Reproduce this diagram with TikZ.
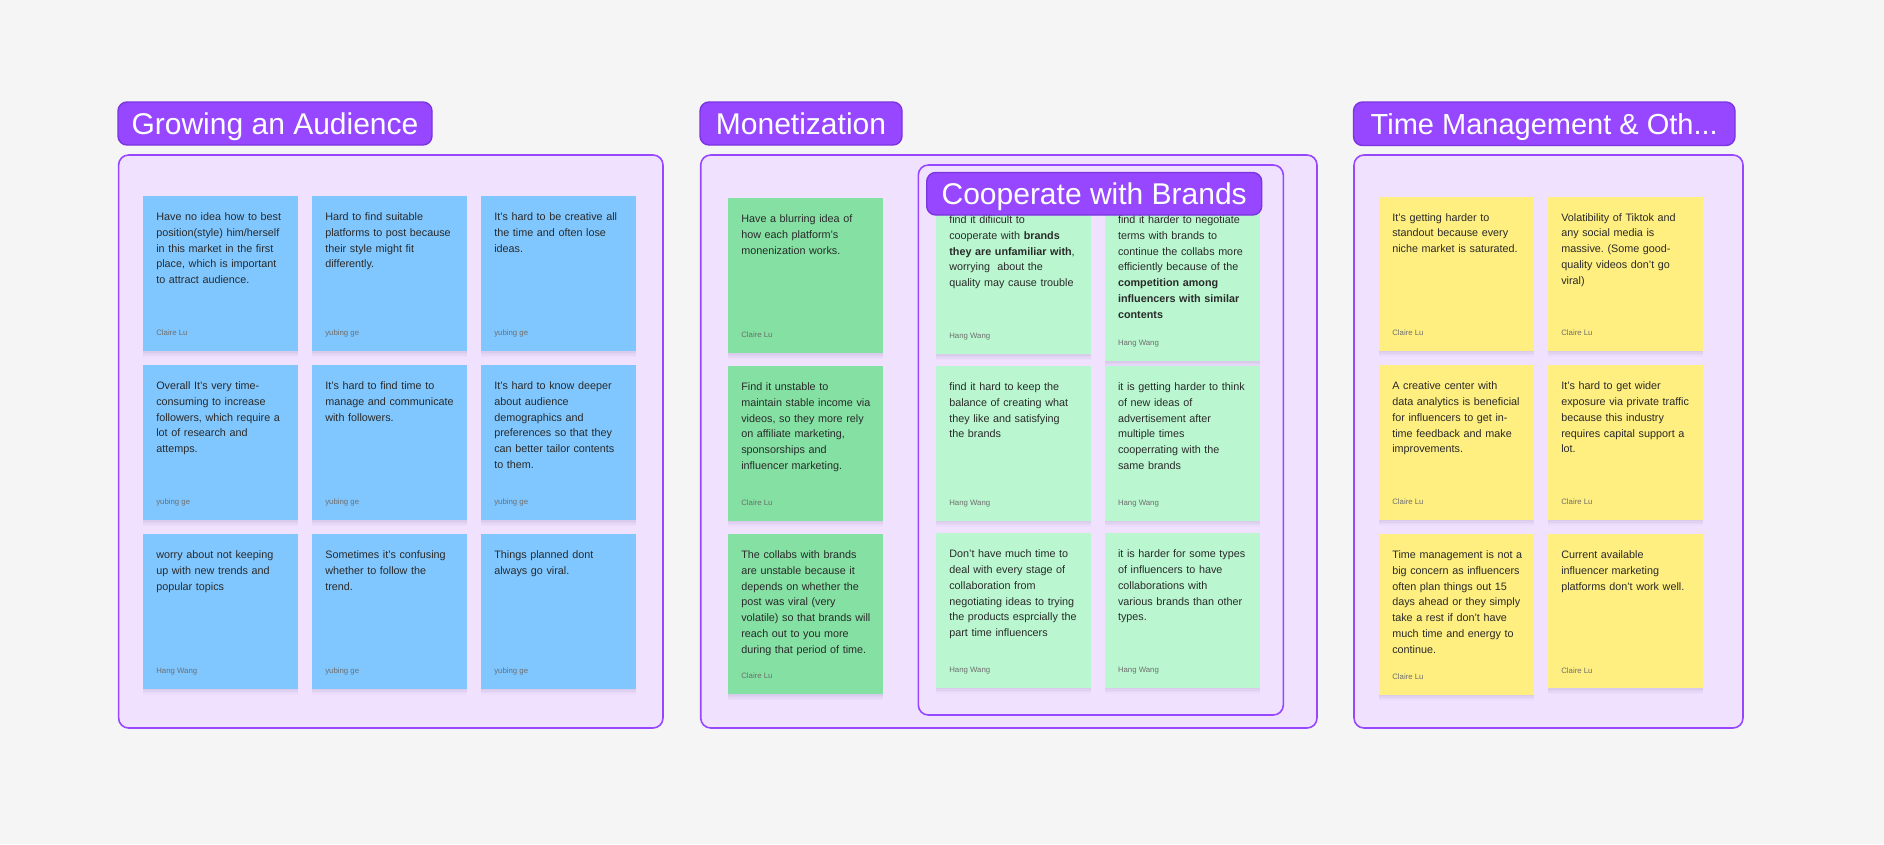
\documentclass[tikz,border=0pt]{standalone}
\usepackage{fontspec}
\setmainfont{Liberation Sans}
\frenchspacing
\definecolor{bgc}{HTML}{F5F5F5}
\definecolor{purp}{HTML}{9747FF}
\definecolor{purpd}{HTML}{7B35E0}
\definecolor{lav}{HTML}{F0E2FF}
\definecolor{sblue}{HTML}{80C7FF}
\definecolor{sgreen}{HTML}{85E0A3}
\definecolor{slgreen}{HTML}{BAF7D0}
\definecolor{syellow}{HTML}{FFEF80}
\definecolor{txtc}{HTML}{2A2A2A}
\definecolor{authc}{HTML}{6E6E6E}
\definecolor{shadc}{HTML}{6A5A90}
\tikzset{
  note/.style={inner sep=0pt, outer sep=0pt, anchor=north west,
    preaction={fill=shadc, fill opacity=0.05, transform canvas={yshift=-1.5pt}},
    preaction={fill=shadc, fill opacity=0.05, transform canvas={yshift=-3pt}},
    preaction={fill=shadc, fill opacity=0.04, transform canvas={yshift=-4.5pt}},
    preaction={fill=shadc, fill opacity=0.03, transform canvas={yshift=-6pt}}},
  nblue/.style={note, fill=sblue},
  ngreen/.style={note, fill=sgreen},
  nlgreen/.style={note, fill=slgreen},
  nyellow/.style={note, fill=syellow},
  txt/.style={inner sep=0pt, outer sep=0pt, anchor=north west, text width=150pt, align=left,
    text=txtc, font=\fontsize{10.8}{15.8}\selectfont},
  auth/.style={inner sep=0pt, outer sep=0pt, anchor=base west, text=authc, font=\fontsize{7.8}{10}\selectfont},
  frame/.style={draw=purp, line width=1.6pt, fill=lav, rounded corners=10pt, inner sep=0pt, outer sep=0pt, anchor=north west},
  pill/.style={draw=purpd, line width=1.4pt, fill=purp, rounded corners=9pt, inner sep=0pt, outer sep=0pt, anchor=north west},
  pilltxt/.style={text=white, font=\fontsize{30}{36}\selectfont, inner sep=0pt, anchor=base}
}
% name, style, x, y, w, h, text, author
\newcommand{\mysticky}[8]{%
  \node[#2, minimum width=#5pt, minimum height=#6pt] (#1) at (#3,#4) {};
  \node[txt] (#1t) at ([xshift=13.3pt,yshift=-13.4pt]#1.north west) {\strut #7};
  \node[auth] (#1a) at ([xshift=13.3pt,yshift=15.3pt]#1.south west) {#8};
}
\begin{document}
\begin{tikzpicture}[x=1pt,y=-1pt]
\fill[bgc] (0,0) rectangle (1884,844);
\useasboundingbox (0,0) rectangle (1884,844);

% frames
\node[frame, minimum width=544.4pt, minimum height=573pt] (g1) at (118.6,155) {};
\node[frame, minimum width=616.3pt, minimum height=573pt] (g2) at (700.7,155) {};
\node[frame, minimum width=365pt, minimum height=550pt] (g2in) at (918.3,165) {};
\node[frame, minimum width=389pt, minimum height=573pt] (g3) at (1354,155) {};

% Growing an Audience
\mysticky{b1}{nblue}{143}{196}{155}{155}{Have no idea how to best\\position(style) him/herself\\in this market in the first\\place, which is important\\to attract audience.}{Claire Lu}
\mysticky{b2}{nblue}{312}{196}{155}{155}{Hard to find suitable\\platforms to post because\\their style might fit\\differently.}{yubing ge}
\mysticky{b3}{nblue}{481}{196}{155}{155}{It’s hard to be creative all\\the time and often lose\\ideas.}{yubing ge}
\mysticky{b4}{nblue}{143}{365}{155}{155}{Overall It’s very time-\\consuming to increase\\followers, which require a\\lot of research and\\attemps.}{yubing ge}
\mysticky{b5}{nblue}{312}{365}{155}{155}{It’s hard to find time to\\manage and communicate\\with followers.}{yubing ge}
\mysticky{b6}{nblue}{481}{365}{155}{155}{It’s hard to know deeper\\about audience\\demographics and\\preferences so that they\\can better tailor contents\\to them.}{yubing ge}
\mysticky{b7}{nblue}{143}{534}{155}{154.5}{worry about not keeping\\up with new trends and\\popular topics}{Hang Wang}
\mysticky{b8}{nblue}{312}{534}{155}{154.5}{Sometimes it’s confusing\\whether to follow the\\trend.}{yubing ge}
\mysticky{b9}{nblue}{481}{534}{155}{154.5}{Things planned dont\\always go viral.}{yubing ge}

% Monetization
\mysticky{m1}{ngreen}{728}{198}{155}{155}{Have a blurring idea of\\how each platform’s\\monenization works.}{Claire Lu}
\mysticky{m2}{ngreen}{728}{366}{155}{154.5}{Find it unstable to\\maintain stable income via\\videos, so they more rely\\on affiliate marketing,\\sponsorships and\\influencer marketing.}{Claire Lu}
\mysticky{m3}{ngreen}{728}{534}{155}{160}{The collabs with brands\\are unstable because it\\depends on whether the\\post was viral (very\\volatile) so that brands will\\reach out to you more\\during that period of time.}{Claire Lu}

% Cooperate with Brands
\mysticky{c1}{nlgreen}{936}{199}{155}{155}{find it difiicult to\\cooperate with \textbf{brands}\\\textbf{they are unfamiliar with},\\worrying\ \ about the\\quality may cause trouble}{Hang Wang}
\mysticky{c2}{nlgreen}{1104.7}{199}{155}{162}{find it harder to negotiate\\terms with brands to\\continue the collabs more\\efficiently because of the\\\textbf{competition among}\\\textbf{influencers with similar}\\\textbf{contents}}{Hang Wang}
\mysticky{c3}{nlgreen}{936}{366}{155}{154.7}{find it hard to keep the\\balance of creating what\\they like and satisfying\\the brands}{Hang Wang}
\mysticky{c4}{nlgreen}{1104.7}{366}{155}{154.7}{it is getting harder to think\\of new ideas of\\advertisement after\\multiple times\\cooperrating with the\\same brands}{Hang Wang}
\mysticky{c5}{nlgreen}{936}{533.3}{155}{154.4}{Don’t have much time to\\deal with every stage of\\collaboration from\\negotiating ideas to trying\\the products esprcially the\\part time influencers}{Hang Wang}
\mysticky{c6}{nlgreen}{1104.7}{533.3}{155}{154.4}{it is harder for some types\\of influencers to have\\collaborations with\\various brands than other\\types.}{Hang Wang}

% Time management
\mysticky{y1}{nyellow}{1379}{196.7}{155}{154}{It’s getting harder to\\standout because every\\niche market is saturated.}{Claire Lu}
\mysticky{y2}{nyellow}{1548}{196.7}{155}{154}{Volatibility of Tiktok and\\any social media is\\massive. (Some good-\\quality videos don’t go\\viral)}{Claire Lu}
\mysticky{y3}{nyellow}{1379}{365.3}{155}{154.4}{A creative center with\\data analytics is beneficial\\for influencers to get in-\\time feedback and make\\improvements.}{Claire Lu}
\mysticky{y4}{nyellow}{1548}{365.3}{155}{154.4}{It’s hard to get wider\\exposure via private traffic\\because this industry\\requires capital support a\\lot.}{Claire Lu}
\mysticky{y5}{nyellow}{1379}{534}{155}{160.7}{Time management is not a\\big concern as influencers\\often plan things out 15\\days ahead or they simply\\take a rest if don’t have\\much time and energy to\\continue.}{Claire Lu}
\mysticky{y6}{nyellow}{1548}{534}{155}{154.3}{Current available\\influencer marketing\\platforms don’t work well.}{Claire Lu}

% pills
\node[pill, minimum width=314pt, minimum height=43pt] (p1) at (118,102) {};
\node[pilltxt] (p1t) at ([yshift=-10.7pt]p1.center) {Growing an Audience};
\node[pill, minimum width=202pt, minimum height=43pt] (p2) at (700,102) {};
\node[pilltxt] (p2t) at ([yshift=-10.7pt]p2.center) {Monetization};
\node[pill, minimum width=335pt, minimum height=42.5pt] (p2in) at (926.7,172.5) {};
\node[pilltxt] (p2int) at ([yshift=-10.7pt]p2in.center) {Cooperate with Brands};
\node[pill, minimum width=381.5pt, minimum height=43.5pt] (p3) at (1353.5,102) {};
\node[pilltxt, font=\fontsize{29}{36}\selectfont] (p3t) at ([yshift=-10.4pt]p3.center) {Time Management \& Oth...};
\end{tikzpicture}
\end{document}
